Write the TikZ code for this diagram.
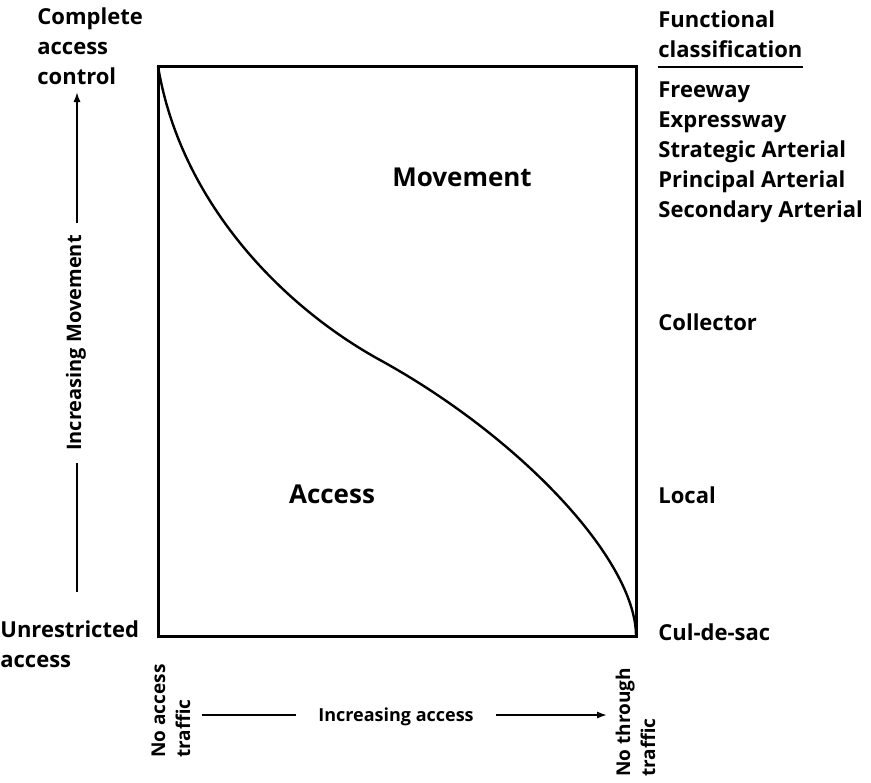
\documentclass[tikz,border=0pt]{standalone}
\usepackage{fontspec}
\setmainfont{Open Sans}
\usetikzlibrary{arrows.meta,positioning}

\begin{document}
\begin{tikzpicture}[x=0.5pt,y=-0.5pt,>={Latex[length=5pt,width=3.6pt]},
    font=\bfseries\fontsize{11}{15}\selectfont,
    every node/.style={inner sep=0pt},
    txt/.style={anchor=base west},
    multi/.style={anchor=base west,align=left},
    region/.style={anchor=base,font=\bfseries\fontsize{13}{15}\selectfont},
    endlbl/.style={anchor=base west,align=left,rotate=90,font=\bfseries\fontsize{9.5}{12.5}\selectfont},
    frame/.style={line width=1.5pt},
    axis/.style={line width=0.9pt}]
    \useasboundingbox (0,0) rectangle (871,782);
    % the square and the movement/access curve
    \coordinate (tl) at (158,66);
    \coordinate (br) at (636,636);
    \coordinate (infl) at (380,360);
    \draw[frame] (tl) rectangle (br);
    \draw[line width=1.2pt] (tl) .. controls (180,200) and (280,305) .. (infl)
        .. controls (520,437) and (636,560) .. (br);
    \node[region] (mov) at (462,186) {Movement};
    \node[region] (acc) at (332,503) {Access};
    % left side
    \node[multi] (cac) at (37,84) {Complete\\access\\control};
    \node[multi] (unr) at (0,667) {Unrestricted\\access};
    \coordinate (mvlow) at (77,592);
    \coordinate (mvtop) at (77,92);
    \node[rotate=90,inner xsep=6pt,font=\bfseries\fontsize{10}{12}\selectfont] (mvlbl) at (76,343) {Increasing Movement};
    \draw[axis] (mvlow) -- (mvlow |- mvlbl.west);
    \draw[axis,->] (mvtop |- mvlbl.east) -- (mvtop);
    % bottom side
    \node[endlbl] (noacc) at (190,758) {No access\\traffic};
    \node[endlbl] (nothr) at (655,777) {No through\\traffic};
    \coordinate (acl) at (202,715);
    \coordinate (acr) at (607,715);
    \node[anchor=base,inner xsep=11pt,font=\bfseries\fontsize{9}{12}\selectfont] (aclbl) at (396,721) {Increasing access};
    \draw[axis] (acl) -- (acl -| aclbl.west);
    \draw[axis,->] (aclbl.east |- acr) -- (acr);
    % functional classification
    \node[txt] (fc1) at (658,27) {Functional};
    \node[txt] (fc2) at (658,57) {classification};
    \draw[line width=0.8pt] ([yshift=-5pt]fc2.base west) -- ([yshift=-5pt]fc2.base east);
    \node[txt] (fwy) at (658,97) {Freeway};
    \node[txt] (ewy) at (658,127) {Expressway};
    \node[txt] (sta) at (658,157) {Strategic Arterial};
    \node[txt] (pra) at (658,187) {Principal Arterial};
    \node[txt] (sea) at (658,217) {Secondary Arterial};
    \node[txt] (col) at (658,330) {Collector};
    \node[txt] (loc) at (658,503) {Local};
    \node[txt] (cds) at (658,640) {Cul-de-sac};
\end{tikzpicture}
\end{document}
